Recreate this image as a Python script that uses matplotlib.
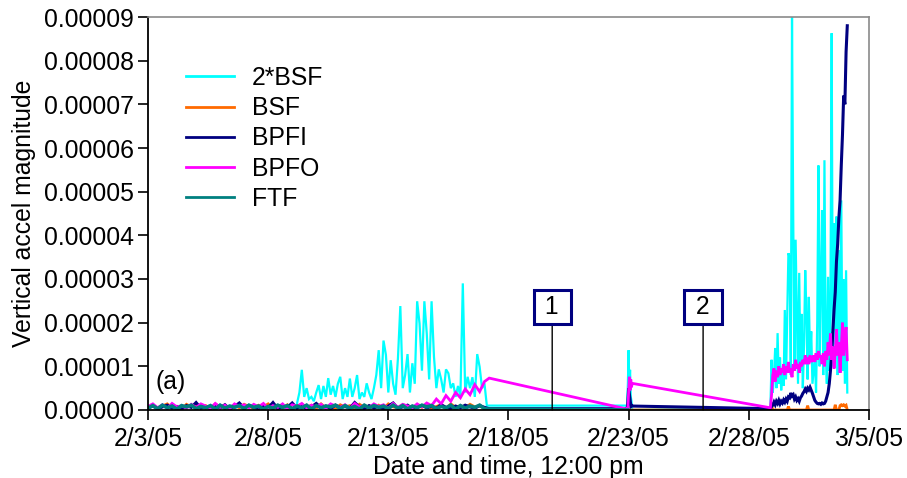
import datetime as dt
import numpy as np
import matplotlib
matplotlib.use("Agg")
import matplotlib.pyplot as plt

plt.rcParams['font.family'] = ['Liberation Sans', 'DejaVu Sans']

# ---------------- data (values in units of 1e-7) ----------------
base = dt.datetime(2005, 2, 3, 12, 0)
SCALE = 1e-7

# sampling start (days after 2/3/05 12:00) and step for each record block
band_start, band_step, band_n = 0.0, 0.2, 72
cyanA_start, cyanA_step = 6.2, 0.1
segB_start, segB_step = 19.94, 0.03
segC_start, segC_step = 25.9, 0.05

# block A (2/3 - 2/17)
bsf2_A = [15, 40, 92, 30, 50, 25, 30, 20, 40, 57,
          25, 55, 30, 73, 35, 55, 30, 60, 76, 25,
          50, 30, 72, 30, 50, 80, 25, 40, 30, 61,
          40, 25, 50, 80, 137, 50, 159, 126, 40, 114,
          60, 35, 118, 238, 50, 80, 128, 40, 107, 60,
          249, 198, 90, 249, 175, 70, 249, 122, 50, 93,
          70, 40, 93, 84, 50, 61, 30, 55, 31, 290,
          40, 76, 50, 75, 30, 128, 99, 50, 61, 10]
bsf_A = [6, 12, 3, 9, 14, 5, 8, 2, 13, 7, 11, 4,
         10, 3, 14, 6, 9, 2, 12, 5, 13, 8, 4, 11,
         7, 14, 3, 10, 5, 12, 2, 9, 13, 6, 11, 4,
         14, 5, 8, 3, 12, 7, 10, 2, 13, 6, 9, 4,
         11, 3, 14, 7, 5, 12, 9, 2, 10, 6, 13, 4,
         8, 12, 3, 14, 6, 10, 5, 13, 7, 9, 4, 2]
bpfi_A = [5, 9, 3, 7, 11, 4, 8, 2, 10, 6, 17, 4,
          7, 3, 9, 5, 12, 2, 8, 16, 4, 10, 6, 3,
          9, 5, 17, 3, 8, 6, 16, 4, 10, 2, 7, 15,
          5, 9, 3, 11, 6, 8, 4, 17, 7, 3, 10, 5,
          8, 2, 9, 16, 4, 7, 11, 3, 6, 10, 5, 8,
          4, 12, 6, 3, 9, 5, 11, 7, 4, 10, 6, 3]
bpfo_A = [8, 14, 5, 12, 3, 15, 7, 10, 4, 13, 6, 14,
          9, 4, 15, 6, 11, 3, 14, 8, 12, 5, 13, 7,
          15, 4, 10, 6, 14, 3, 12, 8, 15, 5, 11, 7,
          13, 4, 14, 9, 6, 12, 3, 15, 7, 10, 5, 14,
          8, 12, 4, 15, 6, 13, 9, 5, 14, 7, 16, 10,
          25, 14, 33, 20, 40, 28, 48, 35, 58, 42, 65, 73]
ftf_A = [4, 10, 3, 11, 5, 9, 2, 10, 7, 11, 3, 8,
         5, 10, 2, 11, 4, 9, 6, 10, 3, 11, 6, 9,
         2, 8, 4, 11, 6, 10, 3, 9, 5, 11, 2, 10,
         5, 9, 7, 11, 3, 10, 4, 8, 2, 11, 5, 10,
         6, 9, 3, 11, 4, 10, 2, 9, 5, 11, 7, 10,
         3, 8, 5, 11, 2, 10, 4, 9, 6, 11, 3, 2]

# block B (2/23)
bsf2_B = [10, 60, 137, 50, 92, 30, 20, 0]
bsf_B = [0, 0, 0, 0, 0, 0, 0, 0]
bpfi_B = [3, 19, 50, 38, 25, 9, 11, 9]
bpfo_B = [2, 5, 39, 76, 45, 70, 52, 61]
ftf_B = [0]

# block C (3/1 - 3/4)
bsf2_C = [5, 115, 40, 80, 142, 50, 176, 60, 120, 45,
          90, 55, 229, 70, 220, 359, 350, 80, 900, 442,
          100, 390, 230, 60, 314, 90, 220, 50, 150, 320,
          220, 70, 259, 120, 180, 60, 90, 120, 40, 200,
          560, 100, 300, 458, 80, 572, 150, 60, 305, 90,
          250, 863, 100, 428, 150, 443, 80, 366, 120, 480,
          90, 300, 60, 320, 40]
bsf_C = [0, 10, 0, 0, 0, 0, 0, 0, 0, 0,
         0, 0, 0, 0, 0, 8, 0, 0, 0, 0,
         0, 0, 0, 0, 0, 0, 0, 0, 0, 0,
         0, 10, 0, 0, 0, 0, 0, 0, 0, 0,
         0, 0, 0, 0, 0, 0, 0, 0, 0, 0,
         0, 0, 0, 0, 12, 0, 0, 0, 10, 12,
         10, 12, 9, 11, 0]
bpfi_C = [3, 8, 11, 18, 12, 20, 15, 22, 14, 20,
          16, 23, 18, 25, 20, 30, 28, 39, 32, 35,
          25, 30, 22, 26, 20, 28, 32, 38, 42, 48,
          43, 50, 46, 52, 45, 38, 30, 22, 18, 15,
          14, 15, 13, 16, 14, 15, 20, 30, 40, 60,
          90, 130, 180, 230, 270, 340, 380, 440, 480, 560,
          630, 720, 700, 820, 880]
bpfo_C = [5, 35, 80, 95, 65, 90, 75, 100, 80, 95,
          85, 105, 80, 100, 85, 110, 85, 95, 75, 105,
          90, 115, 95, 105, 85, 110, 100, 115, 105, 125,
          105, 120, 105, 125, 110, 115, 125, 110, 130, 115,
          135, 120, 125, 105, 130, 100, 135, 115, 155, 125,
          175, 115, 145, 95, 135, 185, 125, 155, 85, 145,
          200, 125, 165, 190, 115]

series_names = ['2*BSF', 'BSF', 'BPFI', 'BPFO', 'FTF']
series_colors = ['#00FFFF', '#FF6A00', '#000080', '#FF00FF', '#008080']
series_lw = [1.6, 2.0, 2.2, 2.0, 2.6]

xtick_labels = ['2/3/05', '2/8/05', '2/13/05', '2/18/05', '2/23/05', '2/28/05', '3/5/05']
xtick_step_days = 5
yticks = [0, 1e-5, 2e-5, 3e-5, 4e-5, 5e-5, 6e-5, 7e-5, 8e-5, 9e-5]

callout_labels = ['1', '2']
callout_days = [16.82, 23.1]
callout_level = 2.35e-5

# ---------------- build time axes ----------------
def days(start, step, n):
    return start + step * np.arange(n)

tA = days(band_start, band_step, band_n)
tAc = days(cyanA_start, cyanA_step, len(bsf2_A))
tB = days(segB_start, segB_step, len(bsf2_B))
tC = days(segC_start, segC_step, len(bsf2_C))

def to_dates(d):
    return [base + dt.timedelta(days=float(x)) for x in d]

data = {
    '2*BSF': (np.concatenate([tAc, tB, tC]), bsf2_A + bsf2_B + bsf2_C),
    'BSF': (np.concatenate([tA, tB, tC]), bsf_A + bsf_B + bsf_C),
    'BPFI': (np.concatenate([tA, tB, tC]), bpfi_A + bpfi_B + bpfi_C),
    'BPFO': (np.concatenate([tA, tB, tC]), bpfo_A + bpfo_B + bpfo_C),
    'FTF': (np.concatenate([tA, tB[:len(ftf_B)]]), ftf_A + ftf_B),
}

# ---------------- figure ----------------
fig = plt.figure(figsize=(9.07, 4.78), dpi=100)
ax = fig.add_axes([0.1632, 0.1423, 0.958 - 0.1632, 0.9644 - 0.1423])

handles = []
for name, col, lw in zip(series_names, series_colors, series_lw):
    t, v = data[name]
    h, = ax.plot(to_dates(t), np.array(v) * SCALE, color=col, lw=lw,
                 solid_joinstyle='miter', label=name)
    handles.append(h)

xt = [base + dt.timedelta(days=xtick_step_days * k) for k in range(len(xtick_labels))]
ax.set_xlim(xt[0], xt[-1])
ax.set_xticks(xt)
ax.set_xticklabels(xtick_labels)
ax.set_ylim(0, 9e-5)
ax.set_yticks(yticks)
ax.set_yticklabels([f"{v:.5f}" for v in yticks])

fs = 17.8
ax.tick_params(axis='both', direction='out', length=7, width=1.2,
               labelsize=fs, color='black')
ax.tick_params(axis='y', pad=3)
ax.tick_params(axis='x', pad=5)
for s in ['left', 'bottom']:
    ax.spines[s].set_color('black')
    ax.spines[s].set_linewidth(1.3)
for s in ['top', 'right']:
    ax.spines[s].set_color('#8a8a8a')
    ax.spines[s].set_linewidth(1.2)

ax.set_ylabel('Vertical accel magnitude', fontsize=fs, labelpad=6)
ax.set_xlabel('Date and time, 12:00 pm', fontsize=fs, labelpad=3)

leg = ax.legend(handles=handles, loc='upper left', bbox_to_anchor=(0.052, 0.875),
                frameon=False, fontsize=fs, handlelength=1.95, handletextpad=0.72,
                labelspacing=0.25, borderpad=0, borderaxespad=0)
for lh in leg.get_lines():
    lh.set_linewidth(2.0)

for lab, d in zip(callout_labels, callout_days):
    x = base + dt.timedelta(days=d)
    ax.annotate(' ' + lab + ' ', xy=(x, 0), xytext=(x, callout_level), fontsize=fs,
                ha='center', va='center',
                bbox=dict(boxstyle='square,pad=0.2', fc='white', ec='#000080', lw=2.2),
                arrowprops=dict(arrowstyle='-', color='black', lw=1,
                                shrinkA=0, shrinkB=0))

ax.text(0.01, 0.07, '(a)', transform=ax.transAxes, fontsize=fs,
        ha='left', va='center')

fig.savefig('out.png', dpi=100)
